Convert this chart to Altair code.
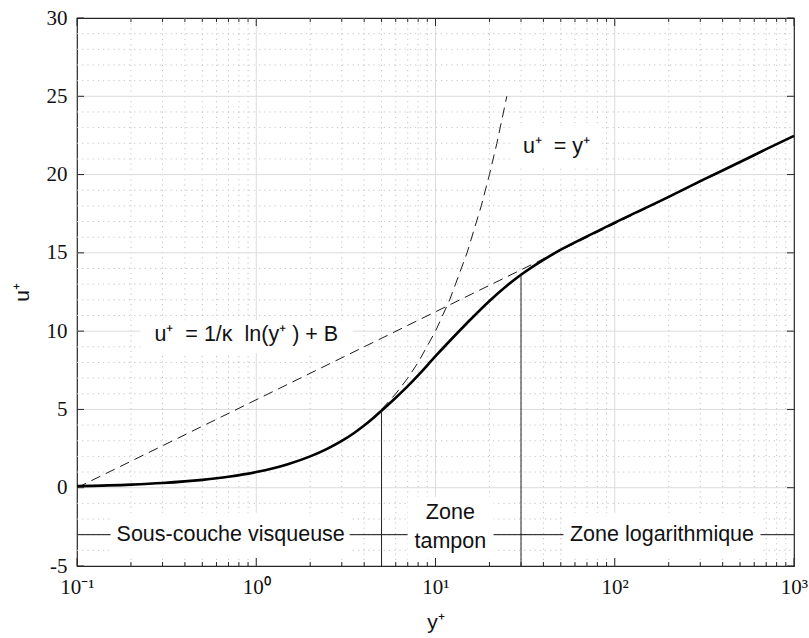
import altair as alt
import pandas as pd

# ---------------- data ----------------
yplus = [0.1, 0.2, 0.3, 0.5, 0.7, 1, 1.5, 2, 2.5, 3, 3.5, 4, 4.5, 5, 6, 7, 8, 10, 12,
         15, 20, 25, 30, 40, 50, 70, 100, 200, 300, 500, 700, 1000]
uplus = [0.1, 0.2, 0.3, 0.5, 0.7, 1.0, 1.5, 2.0, 2.5, 2.99, 3.48, 3.97, 4.45, 4.92,
         5.75, 6.49, 7.18, 8.4, 9.37, 10.52, 11.93, 12.9, 13.6, 14.55, 15.2, 16.05,
         16.93, 18.58, 19.58, 20.8, 21.62, 22.47]

# u+ = y+ (linear sub-layer asymptote)
lin_x = [5, 6, 7, 8, 10, 12, 15, 18, 20, 22, 25]
lin_u = [5, 6, 7, 8, 10, 12, 15, 18, 20, 22, 25]

# log law (straight on a log axis): end points
log_x = [0.1, 1000]
log_u = [0.0, 22.47]

# zone borders
border_x = [5, 30]
border_top = [4.92, 13.6]

# horizontal guide segments at u+ = -3
seg_x0 = [0.1, 3.32, 21.1, 650]
seg_x1 = [0.154, 6.99, 51.8, 1000]
seg_y = -3

# annotations
NB = "\u00a0"
labels = ["Sous-couche visqueuse", "Zone", "tampon", "Zone logarithmique",
          f"u⁺{NB}{NB}={NB}y⁺",
          f"u⁺{NB}{NB}={NB}1/κ{NB}{NB}ln(y⁺{NB}){NB}+{NB}B"]
label_x = [0.72, 12.1, 12.1, 183.5, 47.3, 0.88]
label_y = [-3.0, -1.63, -3.49, -3.0, 21.76, 9.74]

box_x0 = [0.154, 6.99, 51.8, 26.2, 0.226]
box_x1 = [3.32, 21.1, 650, 83.4, 3.45]
box_y0 = [-1.6, -0.6, -1.6, 20.6, 8.6]
box_y1 = [-4.5, -4.6, -4.5, 23.3, 10.7]

# axis ticks / grid
x_major = [0.1, 1, 10, 100, 1000]
x_minor = [m * 10 ** e for e in (-1, 0, 1, 2) for m in range(2, 10)]
y_major = [-5, 0, 5, 10, 15, 20, 25, 30]
y_minor = [v for v in range(-5, 31) if v % 5 != 0]
x_labels = {0.1: "10⁻¹", 1: "10⁰", 10: "10¹", 100: "10²", 1000: "10³"}

# ---------------- chart ----------------
W, H = 717, 548
SANS = "Liberation Sans"
SERIF = "Liberation Serif"

xscale = alt.Scale(type="log", domain=[0.1, 1000], nice=False)
yscale = alt.Scale(domain=[-5, 30], nice=False, zero=False)

label_expr = " : ".join(
    [f"datum.value == {k} ? '{v}'" for k, v in x_labels.items()]) + " : ''"

xaxis = alt.Axis(title="y⁺", values=x_major, labelExpr=label_expr, grid=False,
                 ticks=False, domain=False, labelFont=SERIF, labelFontSize=21,
                 labelColor="#111", labelPadding=10, labelFlush=False,
                 titleFont=SANS, titleFontSize=21, titleFontWeight="normal",
                 titleColor="#111", titlePadding=14)
yaxis = alt.Axis(title="u⁺", values=y_major, grid=False, ticks=False, domain=False,
                 labelExpr="replace(datum.label, '−', '-')",
                 labelFont=SERIF, labelFontSize=21, labelColor="#111",
                 labelPadding=10, labelFlush=False,
                 titleFont=SANS, titleFontSize=21, titleFontWeight="normal",
                 titleColor="#111", titlePadding=14)


def X(field, **kw):
    return alt.X(field, type="quantitative", scale=xscale, axis=xaxis, **kw)


def Y(field, **kw):
    return alt.Y(field, type="quantitative", scale=yscale, axis=yaxis, **kw)


df_xminor = pd.DataFrame({"x": x_minor})
df_yminor = pd.DataFrame({"y": y_minor})
df_xmajor = pd.DataFrame({"x": x_major[1:-1]})
df_ymajor = pd.DataFrame({"y": y_major[1:-1]})

grid_minor_x = alt.Chart(df_xminor).mark_rule(
    color="#c4c4c4", strokeWidth=1, strokeDash=[1.2, 4]).encode(
    x=X("x"), y=alt.value(0), y2=alt.value(H))
grid_minor_y = alt.Chart(df_yminor).mark_rule(
    color="#c4c4c4", strokeWidth=1, strokeDash=[1.2, 4]).encode(
    y=Y("y"), x=alt.value(0), x2=alt.value(W))
grid_major_x = alt.Chart(df_xmajor).mark_rule(
    color="#dcdcdc", strokeWidth=1).encode(
    x=X("x"), y=alt.value(0), y2=alt.value(H))
grid_major_y = alt.Chart(df_ymajor).mark_rule(
    color="#dcdcdc", strokeWidth=1).encode(
    y=Y("y"), x=alt.value(0), x2=alt.value(W))

df_box = pd.DataFrame({"x0": box_x0, "x1": box_x1, "y0": box_y0, "y1": box_y1})
boxes = alt.Chart(df_box).mark_rect(color="white").encode(
    x=X("x0"), x2="x1", y=Y("y0"), y2="y1")

df_lin = pd.DataFrame({"x": lin_x, "u": lin_u})
lin_line = alt.Chart(df_lin).mark_line(
    color="black", strokeWidth=0.9, strokeDash=[10, 6]).encode(
    x=X("x"), y=Y("u"), order="x")

df_log = pd.DataFrame({"x": log_x, "u": log_u})
log_line = alt.Chart(df_log).mark_line(
    color="black", strokeWidth=0.9, strokeDash=[10, 6]).encode(
    x=X("x"), y=Y("u"), order="x")

df_main = pd.DataFrame({"x": yplus, "u": uplus})
main_line = alt.Chart(df_main).mark_line(
    color="black", strokeWidth=2.6, interpolate="monotone").encode(
    x=X("x"), y=Y("u"), order="x")

df_border = pd.DataFrame({"x": border_x, "y0": [-5, -5], "y1": border_top})
borders = alt.Chart(df_border).mark_rule(color="#222", strokeWidth=1).encode(
    x=X("x"), y=Y("y0"), y2="y1")

df_seg = pd.DataFrame({"x0": seg_x0, "x1": seg_x1, "y": [seg_y] * len(seg_x0)})
segs = alt.Chart(df_seg).mark_rule(color="#111", strokeWidth=1).encode(
    x=X("x0"), x2="x1", y=Y("y"))

df_txt = pd.DataFrame({"t": labels, "x": label_x, "y": label_y})
texts = alt.Chart(df_txt).mark_text(
    font=SANS, fontSize=21.5, color="#111", align="center",
    baseline="middle").encode(x=X("x"), y=Y("y"), text="t")

# inward ticks on all four sides
tick_col = "#262626"
tb_major = alt.Chart(pd.DataFrame({"x": x_major})).mark_rule(
    color=tick_col, strokeWidth=1).encode(x=X("x"), y=alt.value(H), y2=alt.value(H - 8))
tt_major = alt.Chart(pd.DataFrame({"x": x_major})).mark_rule(
    color=tick_col, strokeWidth=1).encode(x=X("x"), y=alt.value(0), y2=alt.value(8))
tb_minor = alt.Chart(df_xminor).mark_rule(
    color=tick_col, strokeWidth=1).encode(x=X("x"), y=alt.value(H), y2=alt.value(H - 4))
tt_minor = alt.Chart(df_xminor).mark_rule(
    color=tick_col, strokeWidth=1).encode(x=X("x"), y=alt.value(0), y2=alt.value(4))
tl_major = alt.Chart(pd.DataFrame({"y": y_major})).mark_rule(
    color=tick_col, strokeWidth=1).encode(y=Y("y"), x=alt.value(0), x2=alt.value(7))
tr_major = alt.Chart(pd.DataFrame({"y": y_major})).mark_rule(
    color=tick_col, strokeWidth=1).encode(y=Y("y"), x=alt.value(W), x2=alt.value(W - 7))

chart = alt.layer(
    grid_minor_x, grid_minor_y, grid_major_x, grid_major_y, boxes,
    lin_line, log_line, main_line, borders, segs, texts,
    tb_major, tt_major, tb_minor, tt_minor, tl_major, tr_major,
).properties(
    width=W, height=H,
    autosize=alt.AutoSizeParams(type="none"),
    padding={"left": 77, "top": 18, "right": 15, "bottom": 72},
    background="white",
).configure_view(stroke="#262626", strokeWidth=1.2)

chart.save("out.html", embed_options={"renderer": "svg", "actions": False})
